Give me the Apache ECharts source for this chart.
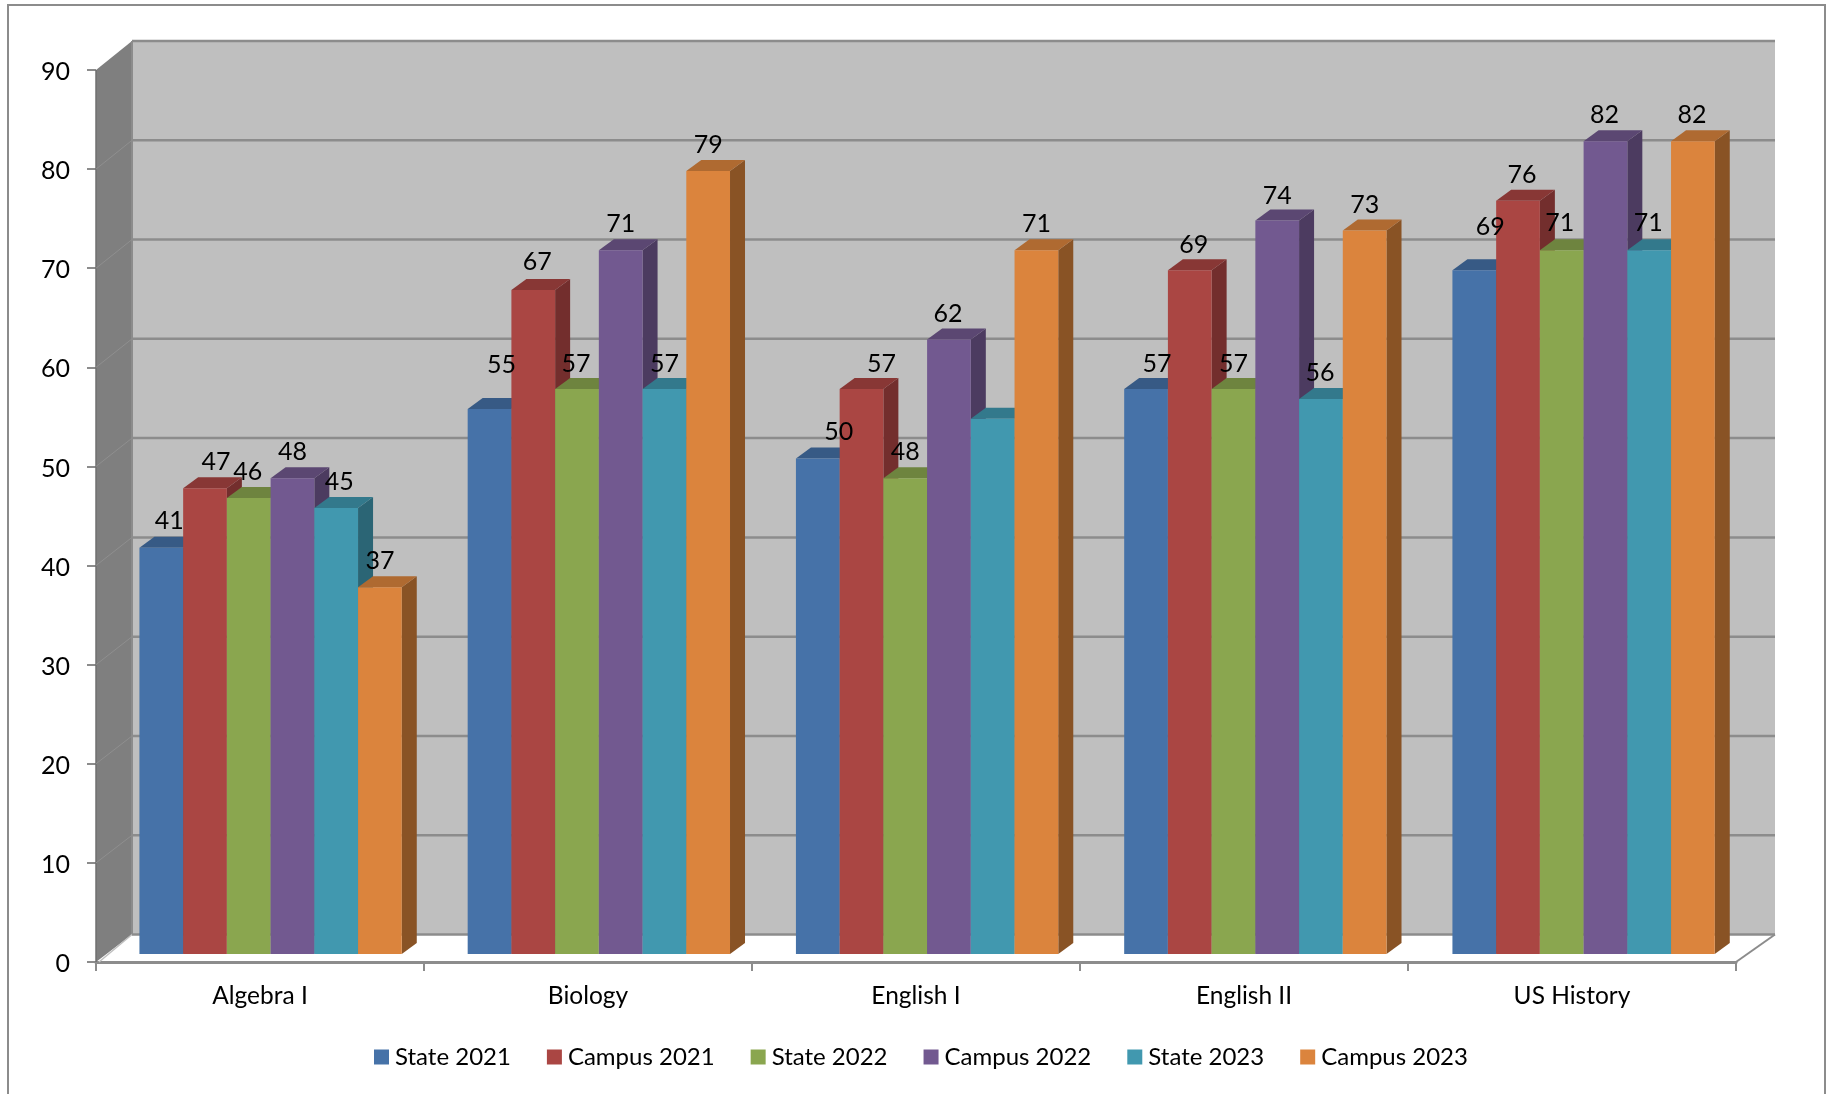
<!DOCTYPE html>
<html>
<head>
<meta charset="utf-8">
<style>html,body{margin:0;padding:0;background:#fff}#chart{width:1828px;height:1094px}</style>
<script src="https://cdn.jsdelivr.net/npm/echarts@6/dist/echarts.min.js"></script>
</head>
<body>
<div id="chart"></div>
<script>
var categories = ['Algebra I', 'Biology', 'English I', 'English II', 'US History'];
var yTicks = [0, 10, 20, 30, 40, 50, 60, 70, 80, 90];
var seriesNames = ['State 2021', 'Campus 2021', 'State 2022', 'Campus 2022', 'State 2023', 'Campus 2023'];
var state2021 = [41, 55, 50, 57, 69];
var campus2021 = [47, 67, 57, 69, 76];
var state2022 = [46, 57, 48, 57, 71];
var campus2022 = [48, 71, 62, 74, 82];
var state2023 = [45, 57, 54, 56, 71];
var campus2023 = [37, 79, 71, 73, 82];
var seriesValues = [state2021, campus2021, state2022, campus2022, state2023, campus2023];

// Styling
var FONT = 'Lato';
var frontColors = ['#4672A8', '#AA4643', '#8AA64F', '#725990', '#4198AF', '#DB843D'];
var topColors = ['#375A85', '#883735', '#6E843F', '#5B4772', '#33798C', '#AF6A31'];
var sideColors = ['#2F4C70', '#732E2D', '#5D7035', '#4C3B60', '#2B6575', '#895325'];
var GRAY = '#8C8C8C';
// Hand-placed data labels of the original: [series, category, dx, dy]
var labelNudges = [
  [0,0,8,-1],[1,0,11,0],[2,0,-1,0],[4,0,3,0],[5,0,0,0],
  [0,1,12,-18],[1,1,4,-2],[2,1,-1,1],[3,1,0,0],[4,1,0,1],
  [0,2,21,-1],[1,2,20,1],[3,2,-1,0],[5,2,0,0],
  [0,3,11,1],[1,3,4,1],[2,3,0,1],[3,3,0,1],[4,3,-1,0],
  [0,4,16,-17],[1,4,4,0],[2,4,-2,-1],[3,4,-1,0],[4,4,-1,-1],[5,4,-1,0]
];
var hiddenLabels = [[4, 2]];

function nudgeFor(s, c) {
  for (var i = 0; i < labelNudges.length; i++) {
    if (labelNudges[i][0] === s && labelNudges[i][1] === c) return labelNudges[i];
  }
  return [s, c, 0, 0];
}
function isHidden(s, c) {
  return hiddenLabels.some(function (h) { return h[0] === s && h[1] === c; });
}

var chart = echarts.init(document.getElementById('chart'), null, { renderer: 'canvas' });

function wallItem(params, api) {
  var cs = params.coordSys;
  var v = api.value(0);
  var y = api.coord([0, v])[1];
  var x0 = cs.x, x1 = cs.x + cs.width;
  var bx0 = x0 + 36, bx1 = x1 + 39;
  var by = y - 27.5 - 1.5 * v / 90;
  var children = [];
  var lineW = 2.5;
  if (params.dataIndex === 0) {
    var yb = api.coord([0, 0])[1], yt = api.coord([0, 90])[1];
    var byb = yb - 27.5, byt = yt - 29;
    children.push({ type: 'rect', shape: { x: bx0, y: byt, width: bx1 - bx0, height: byb - byt }, style: { fill: '#BFBFBF' } });
    children.push({ type: 'polygon', shape: { points: [[x0, yb], [bx0, byb], [bx0, byt], [x0, yt]] }, style: { fill: '#7F7F7F' } });
    children.push({ type: 'line', shape: { x1: bx0, y1: byt, x2: bx0, y2: byb }, style: { stroke: GRAY, lineWidth: 2 } });
    children.push({ type: 'line', shape: { x1: x0, y1: yt, x2: x0, y2: yb }, style: { stroke: '#6F6F6F', lineWidth: 1.5 } });
    children.push({ type: 'line', shape: { x1: x0 + 3, y1: yb, x2: bx0, y2: byb }, style: { stroke: '#BFBFBF', lineWidth: 1.5 } });
    children.push({ type: 'line', shape: { x1: x1, y1: yb, x2: bx1, y2: byb }, style: { stroke: GRAY, lineWidth: 2 } });
  }
  children.push({ type: 'line', shape: { x1: bx0, y1: by, x2: bx1, y2: by }, style: { stroke: GRAY, lineWidth: lineW } });
  if (v > 0 && v < 90) {
    children.push({ type: 'line', shape: { x1: x0, y1: y, x2: bx0, y2: by }, style: { stroke: '#8F8F8F', lineWidth: 1 } });
  }
  return { type: 'group', children: children };
}

function barRenderer(s) {
  return function (params, api) {
    var c = api.value(0), v = api.value(1);
    var band = api.size([1, 0])[0];
    var w = band * 0.1333;
    var center = api.coord([c, v]);
    var lift = 8, dx = 15, dy = 11;
    var x = center[0] + 10.6 + c * 0.25 - 3 * w + s * w;
    var yTop = center[1] - lift;
    var yBot = api.coord([c, 0])[1] - lift;
    var nudge = nudgeFor(s, c);
    var children = [
      { type: 'polygon', shape: { points: [[x + w, yTop], [x + w + dx, yTop - dy], [x + w + dx, yBot - dy], [x + w, yBot]] }, style: { fill: sideColors[s] } },
      { type: 'polygon', shape: { points: [[x, yTop], [x + dx, yTop - dy], [x + w + dx, yTop - dy], [x + w, yTop]] }, style: { fill: topColors[s] } },
      { type: 'rect', shape: { x: x, y: yTop, width: w, height: yBot - yTop }, style: { fill: frontColors[s] } }
    ];
    if (!isHidden(s, c)) {
      children.push({
        type: 'text', z2: 100,
        style: {
          x: x + w / 2 + nudge[2], y: yTop - 26 + nudge[3],
          text: String(v), align: 'center', verticalAlign: 'middle',
          fill: '#000', font: '25px ' + FONT
        }
      });
    }
    return { type: 'group', children: children };
  };
}

var series = [{
  name: 'walls', type: 'custom', silent: true, z: 1,
  coordinateSystem: 'cartesian2d',
  encode: { y: 0 },
  data: yTicks.map(function (t) { return [t]; }),
  renderItem: wallItem
}];
seriesNames.forEach(function (name, s) {
  series.push({
    name: name, type: 'custom', z: 2,
    coordinateSystem: 'cartesian2d',
    itemStyle: { color: frontColors[s] },
    encode: { x: 0, y: 1 },
    data: seriesValues[s].map(function (v, c) { return [c, v]; }),
    renderItem: barRenderer(s)
  });
});

chart.setOption({
  animation: false,
  backgroundColor: '#fff',
  textStyle: { fontFamily: FONT },
  graphic: [{
    type: 'rect', silent: true, z: 0,
    shape: { x: 8, y: 5, width: 1817, height: 1200 },
    style: { fill: 'none', stroke: GRAY, lineWidth: 2 }
  }],
  grid: { left: 96, top: 70, width: 1640, height: 892, containLabel: false },
  xAxis: {
    type: 'category', data: categories, boundaryGap: true,
    axisLine: { show: true, lineStyle: { color: GRAY, width: 3 } },
    axisTick: { show: true, length: 9, lineStyle: { color: GRAY, width: 2 } },
    axisLabel: { color: '#000', fontFamily: FONT, fontSize: 24.5, margin: 22 },
    splitLine: { show: false }
  },
  yAxis: {
    type: 'value', min: 0, max: 90, interval: 10,
    axisLine: { show: false },
    axisTick: { show: true, length: 9, lineStyle: { color: GRAY, width: 2 } },
    axisLabel: { color: '#000', fontFamily: FONT, fontSize: 25, margin: 26, verticalAlign: 'top', lineHeight: 4 },
    splitLine: { show: false }
  },
  legend: {
    data: seriesNames.map(function (n) { return { name: n, icon: 'rect' }; }),
    left: 369, top: 1040, itemWidth: 15, itemHeight: 15, itemGap: 36,
    selectedMode: false,
    textStyle: { color: '#000', fontFamily: FONT, fontSize: 24, padding: [0, 0, 0, 1] }
  },
  series: series
});
</script>
</body>
</html>
